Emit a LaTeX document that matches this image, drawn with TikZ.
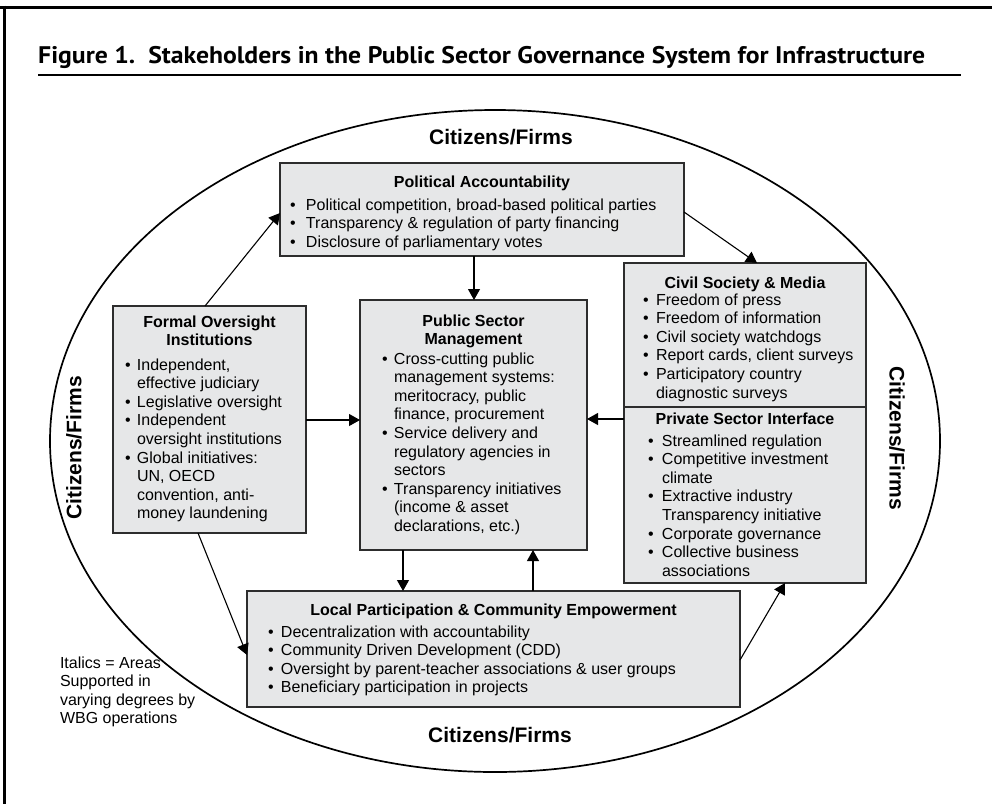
\documentclass[tikz,border=0pt]{standalone}
\usepackage{fontspec}
\usepackage{graphicx}
\setmainfont{Liberation Sans}
\newfontfamily\titlefont{PT Sans}
\usetikzlibrary{arrows.meta,calc}
\definecolor{boxfill}{RGB}{230,231,232}
\definecolor{boxline}{RGB}{45,45,45}
\newlength\bw
\newcommand\li[1]{\makebox[\bw][l]{\textbullet}#1}
\newcommand\lc[1]{\hspace*{\bw}#1}
\tikzset{
  box/.style={draw=boxline, fill=boxfill, line width=1.3pt, inner sep=0pt, outer sep=0pt, rectangle},
  txt/.style={inner sep=0pt, outer sep=0pt, font=\fontsize{16}{18.6}\selectfont},
  head/.style={txt, font=\fontsize{16}{18.6}\selectfont\bfseries, anchor=base},
  lst/.style={txt, anchor=base west},
  cit/.style={inner sep=0pt, font=\fontsize{21}{24}\selectfont\bfseries},
  arr/.style={-{Triangle[length=11pt,width=12pt]}, line width=1.1pt, black},
}
\begin{document}
\begin{tikzpicture}[x=1pt,y=-1pt]
\useasboundingbox (0,0) rectangle (992,804);
% frame
\draw[line width=3pt] (0,7) -- (992,7);
\draw[line width=3pt] (4,5.5) -- (4,804);
% title
\node[anchor=base west, inner sep=0pt] (title) at (38,63)
  {\resizebox{887pt}{\height}{\titlefont\bfseries\fontsize{24}{28}\selectfont Figure 1.\ \ Stakeholders in the Public Sector Governance System for Infrastructure}};
\draw[line width=1.2pt] (38,75) -- (961,75);
% ellipse
\draw[line width=1.7pt] (495,441) ellipse [x radius=445, y radius=331];
% citizens labels
\node[cit, anchor=base] (citTop) at (501,144) {Citizens/Firms};
\node[cit, anchor=base] (citBot) at (500,742) {Citizens/Firms};
\node[cit, rotate=90] (citLeft) at (74,448) {Citizens/Firms};
\node[cit, rotate=-90] (citRight) at (897,438) {Citizens/Firms};
% boxes
\node[box, minimum width=404pt, minimum height=93pt] (pol) at (482,209.5) {};
\node[box, minimum width=193pt, minimum height=227pt] (formal) at (209.5,419.5) {};
\node[box, minimum width=227pt, minimum height=250pt] (pub) at (473.5,425) {};
\node[box, minimum width=242pt, minimum height=144pt] (civil) at (745,335) {};
\node[box, minimum width=242pt, minimum height=176pt] (priv) at (745,495) {};
\node[box, minimum width=493pt, minimum height=116pt] (loc) at (493.5,649) {};
% political
\node[head] (polH) at (482,187) {Political Accountability};
\node[lst] (polL) at (290,210) {\setlength\bw{16pt}\begin{tabular}[t]{@{}l@{}}
\li{Political competition, broad-based political parties}\\
\li{Transparency \& regulation of party financing}\\
\li{Disclosure of parliamentary votes}
\end{tabular}};
% formal
\node[head] (formalH) at (209.5,327) {\begin{tabular}[t]{@{}c@{}}Formal Oversight\\Institutions\end{tabular}};
\node[lst] (formalL) at (125,370) {\setlength\bw{12pt}\begin{tabular}[t]{@{}l@{}}
\li{Independent,}\\
\lc{effective judiciary}\\
\li{Legislative oversight}\\
\li{Independent}\\
\lc{oversight institutions}\\
\li{Global initiatives:}\\
\lc{UN, OECD}\\
\lc{convention, anti-}\\
\lc{money laundening}
\end{tabular}};
% public
\node[head] (pubH) at (473.5,326) {\begin{tabular}[t]{@{}c@{}}Public Sector\\Management\end{tabular}};
\node[lst] (pubL) at (382,364) {\setlength\bw{12pt}\begin{tabular}[t]{@{}l@{}}
\li{Cross-cutting public}\\
\lc{management systems:}\\
\lc{meritocracy, public}\\
\lc{finance, procurement}\\
\li{Service delivery and}\\
\lc{regulatory agencies in}\\
\lc{sectors}\\
\li{Transparency initiatives}\\
\lc{(income \& asset}\\
\lc{declarations, etc.)}
\end{tabular}};
% civil
\node[head] (civilH) at (745,288) {Civil Society \& Media};
\node[lst] (civilL) at (643,305) {\setlength\bw{13pt}\begin{tabular}[t]{@{}l@{}}
\li{Freedom of press}\\
\li{Freedom of information}\\
\li{Civil society watchdogs}\\
\li{Report cards, client surveys}\\
\li{Participatory country}\\
\lc{diagnostic surveys}
\end{tabular}};
% private
\node[head] (privH) at (745,424) {Private Sector Interface};
\node[lst] (privL) at (648,446) {\setlength\bw{14pt}\begin{tabular}[t]{@{}l@{}}
\li{Streamlined regulation}\\
\li{Competitive investment}\\
\lc{climate}\\
\li{Extractive industry}\\
\lc{Transparency initiative}\\
\li{Corporate governance}\\
\li{Collective business}\\
\lc{associations}
\end{tabular}};
% local
\node[head] (locH) at (493.5,615) {Local Participation \& Community Empowerment};
\node[lst] (locL) at (268,637) {\setlength\bw{13pt}\begin{tabular}[t]{@{}l@{}}
\li{Decentralization with accountability}\\
\li{Community Driven Development (CDD)}\\
\li{Oversight by parent-teacher associations \& user groups}\\
\li{Beneficiary participation in projects}
\end{tabular}};
% note
\node[lst] (note) at (60,668) {\begin{tabular}[t]{@{}l@{}}
Italics = Areas\\
Supported in\\
varying degrees by\\
WBG operations
\end{tabular}};
% arrows
\draw[arr] ($(formal.north west)+(92,0)$) -- ($(pol.north west)+(0,50)$);
\draw[arr] ($(pol.south west)+(194,0)$) -- ($(pub.north west)+(114,0)$);
\draw[arr] ($(pol.north east)+(0,49)$) -- ($(civil.north west)+(133,0)$);
\draw[arr] ($(formal.north east)+(0,114)$) -- ($(pub.north west)+(0,120)$);
\draw[arr] ($(priv.north west)+(0,12)$) -- ($(pub.north east)+(0,119)$);
\draw[arr] ($(pub.south west)+(43,0)$) -- ($(loc.north west)+(156,0)$);
\draw[arr] ($(loc.north west)+(286,0)$) -- ($(pub.south west)+(173,0)$);
\draw[arr] ($(formal.south west)+(85,0)$) -- ($(loc.north west)+(0,64)$);
\draw[arr] ($(loc.north east)+(0,69)$) -- ($(priv.south west)+(161,0)$);
\end{tikzpicture}
\end{document}
